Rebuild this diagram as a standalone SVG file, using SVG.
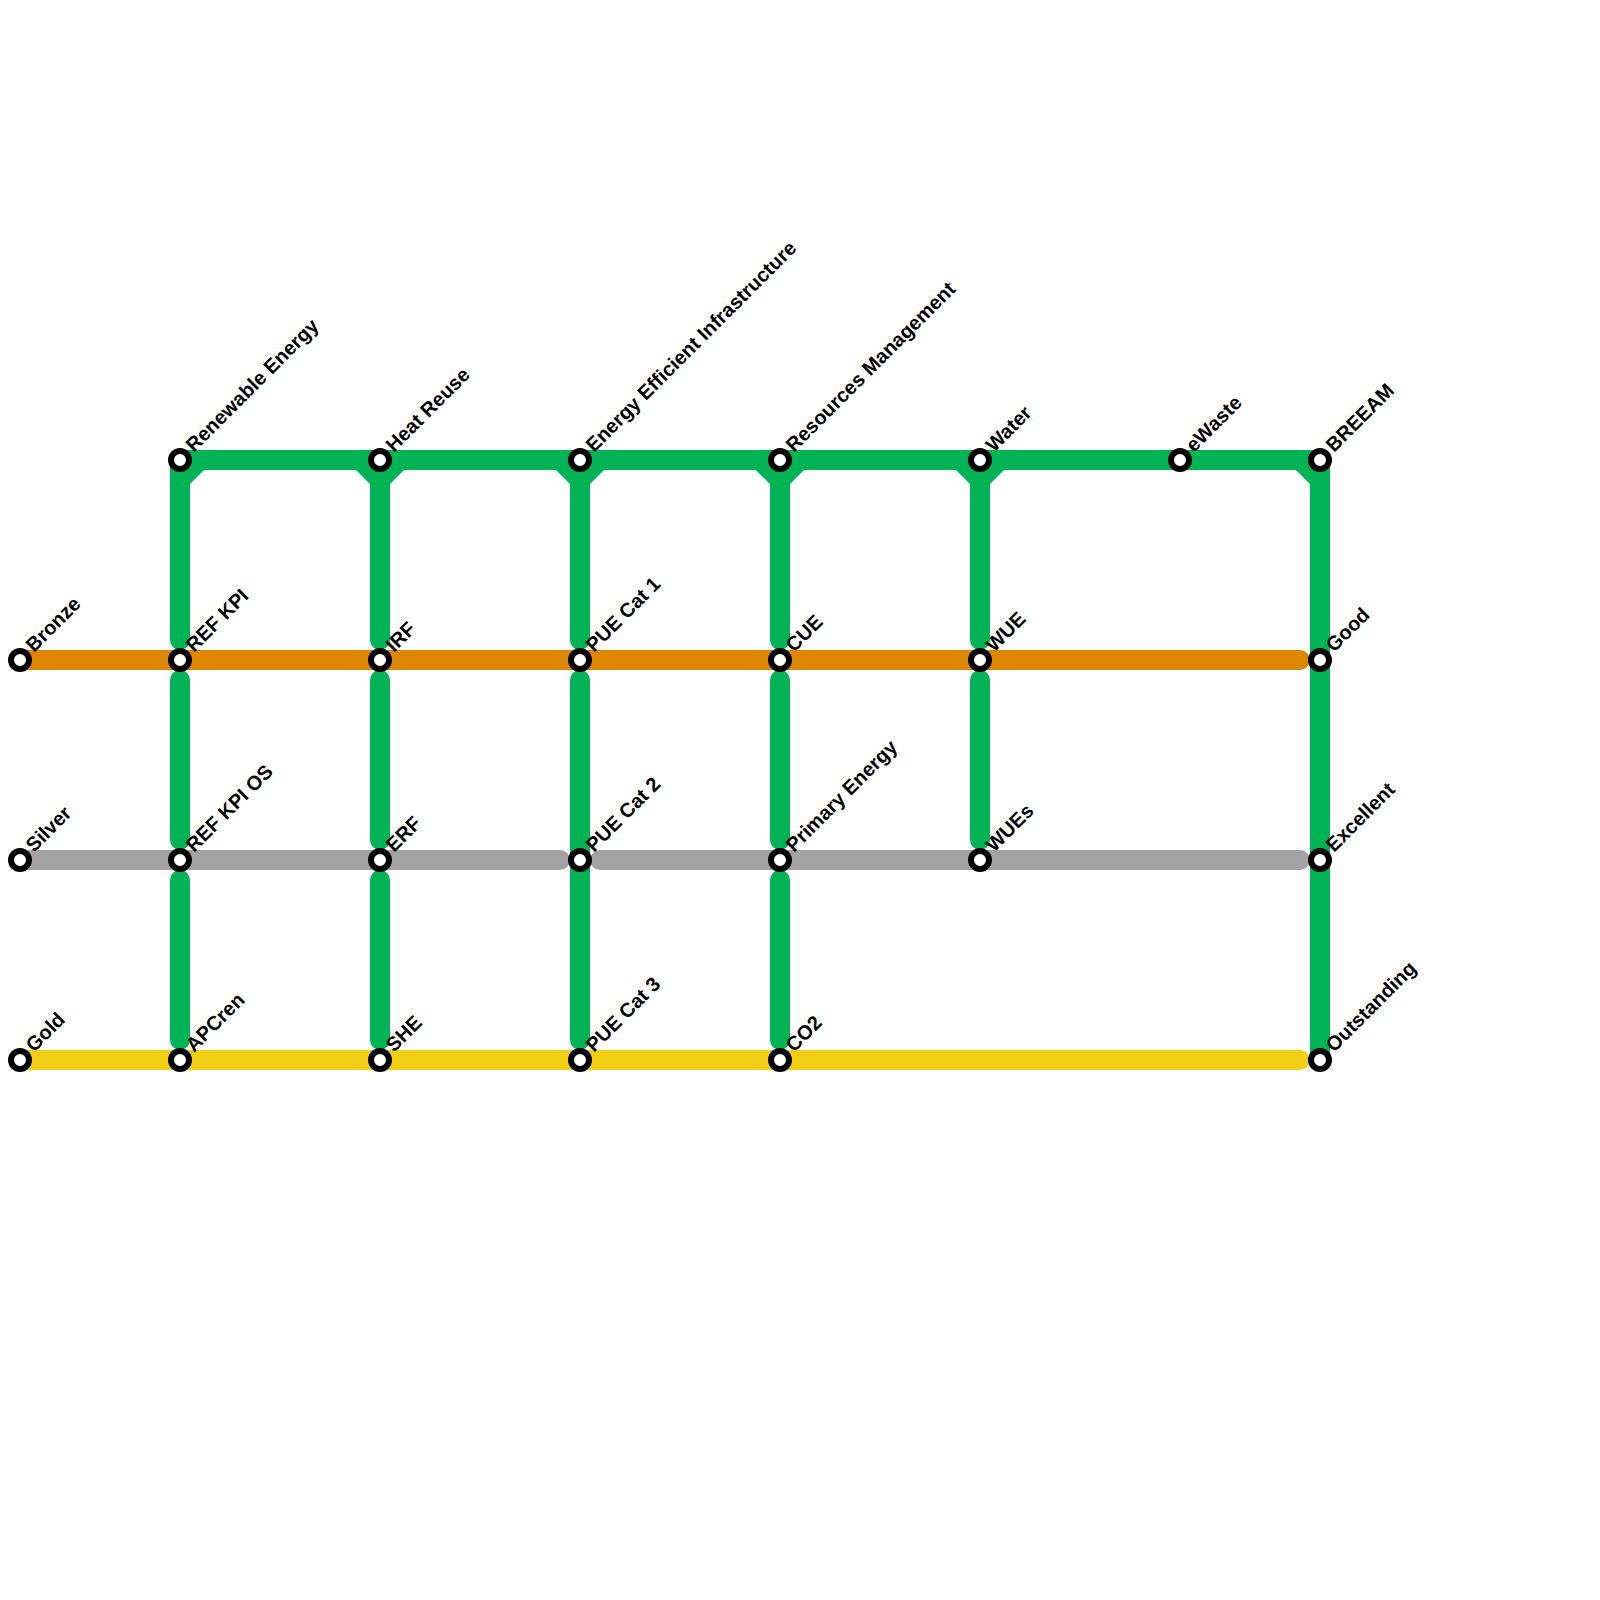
<svg xmlns="http://www.w3.org/2000/svg" width="1600" height="1600" viewBox="0 0 1600 1600">
<style>
.l{fill:none;stroke-width:20;stroke-linecap:round;stroke-linejoin:round}
.c{stroke-linecap:butt}
.g{stroke:#00b455}.o{stroke:#de8600}.s{stroke:#a2a2a2}.y{stroke:#f0ce15}
.st{fill:#fff;stroke:#000;stroke-width:6}
text{font-family:"Liberation Sans",Arial,sans-serif;font-size:20px;font-weight:700;fill:#000;text-rendering:geometricPrecision}
</style>
<rect width="1600" height="1600" fill="#fff"/>
<g id="connectors">
<path class="l g" d="M180 460H1320V1060"/>
<path class="l c g" d="M180 480L200 460M380 480L360 460M380 480L400 460M580 480L560 460M580 480L600 460M780 480L760 460M780 480L800 460M980 480L960 460M980 480L1000 460M1320 480L1300 460"/>
<path class="l g" d="M180 460V640M180 680V840M180 880V1040M380 460V640M380 680V840M380 880V1040M580 460V640M580 680V1040M780 460V640M780 680V840M780 880V1040M980 460V640M980 680V840"/>
<path class="l o" d="M20 660H1300"/>
<path class="l s" d="M20 860H560M600 860H1300"/>
<path class="l y" d="M20 1060H1300"/>
</g>
<g id="n-renewable"><circle class="st" cx="180" cy="460" r="9"/><text transform="translate(194 453) rotate(-45)">Renewable Energy</text></g>
<g id="n-heat"><circle class="st" cx="380" cy="460" r="9"/><text transform="translate(394 453) rotate(-45)">Heat Reuse</text></g>
<g id="n-energy"><circle class="st" cx="580" cy="460" r="9"/><text transform="translate(594 453) rotate(-45)">Energy Efficient Infrastructure</text></g>
<g id="n-resources"><circle class="st" cx="780" cy="460" r="9"/><text transform="translate(794 453) rotate(-45)">Resources Management</text></g>
<g id="n-water"><circle class="st" cx="980" cy="460" r="9"/><text transform="translate(994 453) rotate(-45)">Water</text></g>
<g id="n-ewaste"><circle class="st" cx="1180" cy="460" r="9"/><text transform="translate(1194 453) rotate(-45)">eWaste</text></g>
<g id="n-breeam"><circle class="st" cx="1320" cy="460" r="9"/><text transform="translate(1334 453) rotate(-45)">BREEAM</text></g>
<g id="n-bronze"><circle class="st" cx="20" cy="660" r="9"/><text transform="translate(34 653) rotate(-45)">Bronze</text></g>
<g id="n-refkpi"><circle class="st" cx="180" cy="660" r="9"/><text transform="translate(194 653) rotate(-45)">REF KPI</text></g>
<g id="n-irf"><circle class="st" cx="380" cy="660" r="9"/><text transform="translate(394 653) rotate(-45)">IRF</text></g>
<g id="n-pue1"><circle class="st" cx="580" cy="660" r="9"/><text transform="translate(594 653) rotate(-45)">PUE Cat 1</text></g>
<g id="n-cue"><circle class="st" cx="780" cy="660" r="9"/><text transform="translate(794 653) rotate(-45)">CUE</text></g>
<g id="n-wue"><circle class="st" cx="980" cy="660" r="9"/><text transform="translate(994 653) rotate(-45)">WUE</text></g>
<g id="n-good"><circle class="st" cx="1320" cy="660" r="9"/><text transform="translate(1334 653) rotate(-45)">Good</text></g>
<g id="n-silver"><circle class="st" cx="20" cy="860" r="9"/><text transform="translate(34 853) rotate(-45)">Silver</text></g>
<g id="n-refkpios"><circle class="st" cx="180" cy="860" r="9"/><text transform="translate(194 853) rotate(-45)">REF KPI OS</text></g>
<g id="n-erf"><circle class="st" cx="380" cy="860" r="9"/><text transform="translate(394 853) rotate(-45)">ERF</text></g>
<g id="n-pue2"><circle class="st" cx="580" cy="860" r="9"/><text transform="translate(594 853) rotate(-45)">PUE Cat 2</text></g>
<g id="n-primary"><circle class="st" cx="780" cy="860" r="9"/><text transform="translate(794 853) rotate(-45)">Primary Energy</text></g>
<g id="n-wues"><circle class="st" cx="980" cy="860" r="9"/><text transform="translate(994 853) rotate(-45)">WUEs</text></g>
<g id="n-excellent"><circle class="st" cx="1320" cy="860" r="9"/><text transform="translate(1334 853) rotate(-45)">Excellent</text></g>
<g id="n-gold"><circle class="st" cx="20" cy="1060" r="9"/><text transform="translate(34 1053) rotate(-45)">Gold</text></g>
<g id="n-apcren"><circle class="st" cx="180" cy="1060" r="9"/><text transform="translate(194 1053) rotate(-45)">APCren</text></g>
<g id="n-she"><circle class="st" cx="380" cy="1060" r="9"/><text transform="translate(394 1053) rotate(-45)">SHE</text></g>
<g id="n-pue3"><circle class="st" cx="580" cy="1060" r="9"/><text transform="translate(594 1053) rotate(-45)">PUE Cat 3</text></g>
<g id="n-co2"><circle class="st" cx="780" cy="1060" r="9"/><text transform="translate(794 1053) rotate(-45)">CO2</text></g>
<g id="n-outstanding"><circle class="st" cx="1320" cy="1060" r="9"/><text transform="translate(1334 1053) rotate(-45)">Outstanding</text></g>
</svg>
